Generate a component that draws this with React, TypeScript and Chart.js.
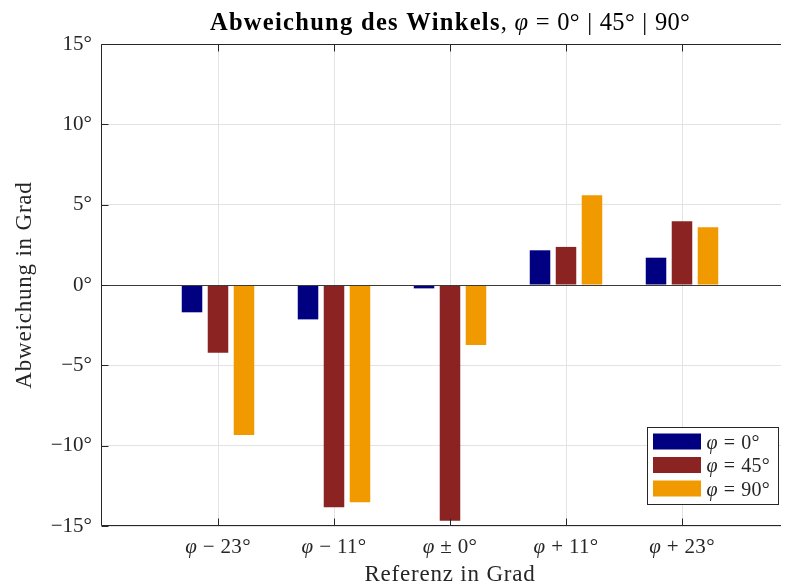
import React, { useEffect, useRef } from 'react';
import { Chart, registerables } from 'chart.js';

Chart.register(...registerables);

// ---- data ----
const categories = ['φ − 23°', 'φ − 11°', 'φ ± 0°', 'φ + 11°', 'φ + 23°'];
const seriesNames = ['φ = 0°', 'φ = 45°', 'φ = 90°'];
const values0 = [-1.7, -2.14, -0.21, 2.16, 1.7];
const values45 = [-4.22, -13.83, -14.68, 2.37, 3.97];
const values90 = [-9.33, -13.52, -3.74, 5.59, 3.6];
const seriesColors = ['#000080', '#8b2323', '#f09a00'];
const yTickValues = [-15, -10, -5, 0, 5, 10, 15];
const titleBold = 'Abweichung des Winkels';
const titleMath = 'φ = 0° | 45° | 90°';
const xTitle = 'Referenz in Grad';
const yTitle = 'Abweichung in Grad';

const FONT = '"Liberation Serif", "Times New Roman", serif';
const AXIS = '#262626';
const GRID = '#e3e3e3';
const TICK_SIZE = 21;
const LABEL_SIZE = 23;
const TITLE_SIZE = 24.5;
const LEGEND_SIZE = 20;

type Run = { text: string; style: string; gap: number };

function setFont(ctx: CanvasRenderingContext2D, style: string, size: number, ls: number) {
  ctx.font = `${style} ${size}px ${FONT}`;
  (ctx as any).letterSpacing = `${ls}px`;
}

function mathRuns(s: string, size: number, gapEm = 0.27): Run[] {
  return s.split(' ').map((t, i) => ({
    text: t,
    style: t === 'φ' ? 'italic' : 'normal',
    gap: i === 0 ? 0 : size * gapEm,
  }));
}

function runsWidth(ctx: CanvasRenderingContext2D, runs: Run[], size: number, ls: number) {
  let w = 0;
  for (const r of runs) {
    setFont(ctx, r.style, size, ls);
    w += r.gap + ctx.measureText(r.text).width;
  }
  return w;
}

function drawRuns(
  ctx: CanvasRenderingContext2D,
  runs: Run[],
  x: number,
  y: number,
  size: number,
  align: 'left' | 'center',
  ls = 0
) {
  const w = runsWidth(ctx, runs, size, ls);
  let cx = align === 'center' ? x - w / 2 : x;
  ctx.textAlign = 'left';
  ctx.textBaseline = 'alphabetic';
  for (const r of runs) {
    cx += r.gap;
    setFont(ctx, r.style, size, ls);
    ctx.fillText(r.text, cx, y);
    cx += ctx.measureText(r.text).width;
  }
}

function hline(ctx: CanvasRenderingContext2D, x1: number, x2: number, y: number) {
  ctx.beginPath();
  ctx.moveTo(x1, y);
  ctx.lineTo(x2, y);
  ctx.stroke();
}
function vline(ctx: CanvasRenderingContext2D, x: number, y1: number, y2: number) {
  ctx.beginPath();
  ctx.moveTo(x, y1);
  ctx.lineTo(x, y2);
  ctx.stroke();
}

const decorPlugin = {
  id: 'decor',
  afterDatasetsDraw(chart: any) {
    const { ctx, chartArea: a, scales } = chart;
    const xs = scales.x;
    const ys = scales.y;
    ctx.save();
    ctx.lineWidth = 1;

    // bar baseline at 0
    ctx.strokeStyle = '#3a3a3a';
    const y0 = Math.round(ys.getPixelForValue(0)) + 0.5;
    hline(ctx, a.left, a.right, y0);

    // axes box
    ctx.strokeStyle = AXIS;
    const L = Math.round(a.left) - 0.5;
    const T = Math.round(a.top) + 0.5;
    const B = Math.round(a.bottom) - 0.5;
    hline(ctx, L, a.right, T);
    hline(ctx, L, a.right, B);
    vline(ctx, L, T, B);

    // inward ticks
    const tl = 7;
    categories.forEach((_, i) => {
      const px = Math.round(xs.getPixelForValue(i + 1)) + 0.5;
      vline(ctx, px, B, B - tl);
      vline(ctx, px, T, T + tl);
    });
    yTickValues.forEach((v) => {
      const py = Math.round(ys.getPixelForValue(v)) + 0.5;
      hline(ctx, L, L + tl, py);
    });

    // x tick labels
    ctx.fillStyle = AXIS;
    categories.forEach((c, i) => {
      const px = xs.getPixelForValue(i + 1);
      drawRuns(ctx, mathRuns(c, TICK_SIZE), px, a.bottom + 27, TICK_SIZE, 'center', 0.3);
    });

    // legend
    const bx = Math.round(a.right - 151) + 0.5;
    const by = Math.round(a.bottom - 99) + 0.5;
    const bw = 131;
    const bh = 77;
    ctx.fillStyle = '#ffffff';
    ctx.fillRect(bx, by, bw, bh);
    ctx.strokeStyle = AXIS;
    ctx.strokeRect(bx, by, bw, bh);
    seriesNames.forEach((name, i) => {
      const rowTop = by + 6 + i * 23.5;
      ctx.fillStyle = seriesColors[i];
      ctx.fillRect(bx + 5.5, rowTop, 48, 16);
      ctx.fillStyle = AXIS;
      drawRuns(ctx, mathRuns(name, LEGEND_SIZE, 0.3), bx + 59, rowTop + 15, LEGEND_SIZE, 'left', 0.2);
    });

    // title
    const cx = (a.left + a.right) / 2;
    const boldRuns: Run[] = [{ text: titleBold, style: 'bold', gap: 0 }];
    const restRuns: Run[] = [{ text: ',', style: 'normal', gap: 0 }, ...mathRuns(titleMath, TITLE_SIZE, 0.3)];
    restRuns[1].gap = TITLE_SIZE * 0.3;
    const wb = runsWidth(ctx, boldRuns, TITLE_SIZE, 1.3);
    const wr = runsWidth(ctx, restRuns, TITLE_SIZE, 0.3);
    const sx = cx - (wb + wr) / 2;
    ctx.fillStyle = '#000000';
    drawRuns(ctx, boldRuns, sx, 30, TITLE_SIZE, 'left', 1.3);
    drawRuns(ctx, restRuns, sx + wb, 30, TITLE_SIZE, 'left', 0.3);

    // axis titles
    ctx.fillStyle = AXIS;
    drawRuns(ctx, [{ text: xTitle, style: 'normal', gap: 0 }], cx, a.bottom + 55, LABEL_SIZE, 'center', 0.8);
    ctx.save();
    ctx.translate(31, (a.top + a.bottom) / 2);
    ctx.rotate(-Math.PI / 2);
    drawRuns(ctx, [{ text: yTitle, style: 'normal', gap: 0 }], 0, 0, LABEL_SIZE, 'center', 0.8);
    ctx.restore();

    ctx.restore();
  },
};

export default function App() {
  const canvasRef = useRef<HTMLCanvasElement | null>(null);

  useEffect(() => {
    const canvas = canvasRef.current;
    if (!canvas) return;
    const series = [values0, values45, values90];
    const chart = new Chart(canvas, {
      type: 'bar',
      data: {
        datasets: series.map((vals, s) => ({
          label: seriesNames[s],
          data: vals.map((v, i) => ({ x: i + 1, y: v })),
          backgroundColor: seriesColors[s],
          borderWidth: 0,
          categoryPercentage: 0.672,
          barPercentage: 0.79,
        })),
      },
      options: {
        responsive: false,
        animation: false,
        devicePixelRatio: 1,
        layout: { padding: { top: 44, right: 2, left: 0, bottom: 0 } },
        plugins: {
          legend: { display: false },
          title: { display: false },
          tooltip: { enabled: false },
        },
        scales: {
          x: {
            type: 'linear',
            min: 0,
            max: 6,
            offset: false,
            afterBuildTicks: (s: any) => {
              s.ticks = categories.map((_, i) => ({ value: i + 1 }));
            },
            afterFit: (s: any) => {
              s.height = 58;
            },
            grid: { color: GRID, drawTicks: false, offset: false },
            border: { display: false },
            ticks: { display: false },
          },
          y: {
            type: 'linear',
            min: -15,
            max: 15,
            afterBuildTicks: (s: any) => {
              s.ticks = yTickValues.map((v) => ({ value: v }));
            },
            afterFit: (s: any) => {
              s.width = 102;
            },
            grid: { color: GRID, drawTicks: false },
            border: { display: false },
            ticks: {
              padding: 10,
              color: AXIS,
              font: { family: FONT, size: TICK_SIZE },
              callback: (v: any) => `${v < 0 ? '−' : ''}${Math.abs(v)}°`,
            },
          },
        },
      } as any,
      plugins: [decorPlugin],
    });
    return () => chart.destroy();
  }, []);

  return (
    <div
      style={{
        position: 'absolute',
        left: 0,
        top: 0,
        width: 781,
        height: 584,
        overflow: 'hidden',
        background: '#ffffff',
      }}
    >
      <canvas ref={canvasRef} width={800} height={584} style={{ display: 'block' }} />
    </div>
  );
}
